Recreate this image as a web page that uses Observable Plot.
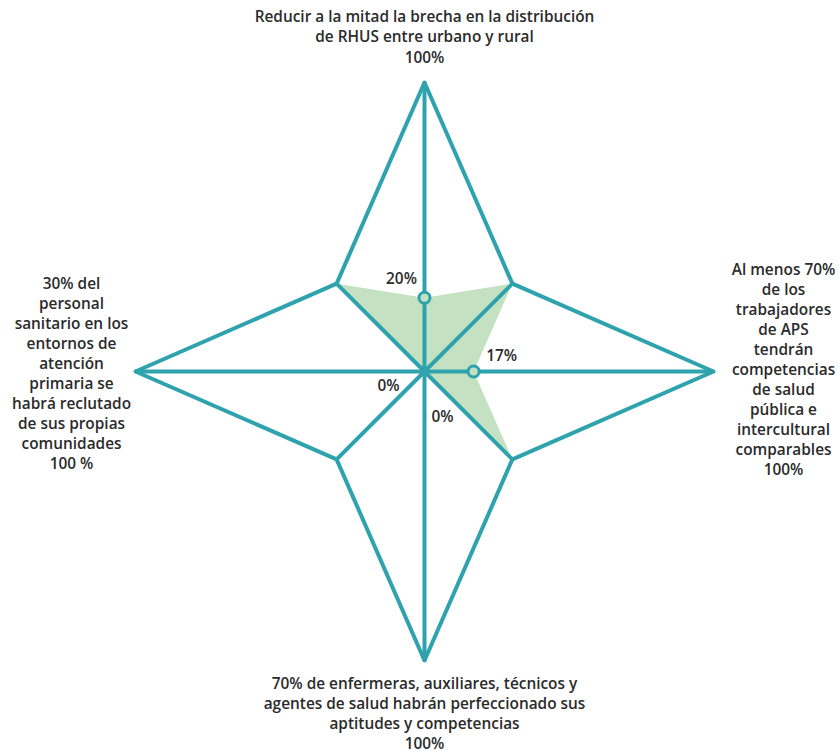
<!DOCTYPE html>
<html><head><meta charset="utf-8">
<script src="https://cdn.jsdelivr.net/npm/d3@7"></script>
<script src="https://cdn.jsdelivr.net/npm/@observablehq/plot@0.6"></script>
<style>html,body{margin:0;background:#fff} #chart svg{display:block}</style>
</head><body><div id="chart"></div><script>
// Radar axes, clockwise from top
const axes = ["N", "NE", "E", "SE", "S", "SW", "W", "NW"];
// Target (meta) outline values in %
const targetValues = [100, 43, 100, 43, 100, 43, 100, 43];
// Achieved values (green area) in %
const actualValues = [25.5, 43, 17, 43, 0, 0, 0, 43];
// Main axis labels (N, E, S, W)
const mainAxes = ["N", "E", "S", "W"];
const mainLabels = [
  "Reducir a la mitad la brecha en la distribución\nde RHUS entre urbano y rural\n100%",
  "Al menos 70%\nde los\ntrabajadores\nde APS\ntendrán\ncompetencias\nde salud\npública e\nintercultural\ncomparables\n100%",
  "70% de enfermeras, auxiliares, técnicos y\nagentes de salud habrán perfeccionado sus\naptitudes y competencias\n100%",
  "30% del\npersonal\nsanitario en los\nentornos de\natención\nprimaria se\nhabrá reclutado\nde sus propias\ncomunidades\n100 %"
];
const mainValues = [25.5, 17, 0, 0];
const valueLabels = ["20%", "17%", "0%", "0%"];

const teal = "#2ea3ad";
const green = "#c4e1c2";
const ink = "#2b2b2b";

const idx = a => axes.indexOf(a);
const pt = (v, i) => ({x: v * Math.sin(i * Math.PI / 4), y: v * Math.cos(i * Math.PI / 4)});

const outline = targetValues.map((v, i) => ({...pt(v, i), axis: axes[i]}));
const filled = actualValues.map((v, i) => ({...pt(v, i), axis: axes[i]}));
const spokes = outline.flatMap(d => [{x: 0, y: 0, axis: d.axis}, {x: d.x, y: d.y, axis: d.axis}]);
const tips = mainAxes.map((a, k) => ({...pt(100, idx(a)), label: mainLabels[k]}));
const markers = mainAxes.map((a, k) => ({...pt(mainValues[k], idx(a)), label: valueLabels[k], value: mainValues[k]}));

const font = {fontFamily: "Open Sans", fontWeight: 600, fontSize: 15.4, fill: ink, lineHeight: 1.3};

const chart = Plot.plot({
  width: 840,
  height: 754,
  margin: 0,
  x: {domain: [-100, 100], range: [135, 713], axis: null},
  y: {domain: [-100, 100], range: [660, 82], axis: null},
  marks: [
    Plot.line(filled, {x: "x", y: "y", curve: "linear-closed", fill: green, stroke: "none"}),
    Plot.line(spokes, {x: "x", y: "y", z: "axis", stroke: teal, strokeWidth: 4}),
    Plot.line(outline, {x: "x", y: "y", curve: "linear-closed", stroke: teal, strokeWidth: 4, strokeLinejoin: "miter"}),
    Plot.dot(markers.filter(d => d.value > 0), {x: "x", y: "y", r: 5.5, fill: green, stroke: teal, strokeWidth: 3}),
    // axis labels
    Plot.text([tips[0]], {x: "x", y: "y", text: "label", lineAnchor: "bottom", dy: -20, ...font}),
    Plot.text([tips[1]], {x: "x", y: "y", text: "label", lineAnchor: "middle", dx: 70, dy: -3, ...font}),
    Plot.text([tips[2]], {x: "x", y: "y", text: "label", lineAnchor: "top", dy: 14, ...font}),
    Plot.text([tips[3]], {x: "x", y: "y", text: "label", lineAnchor: "middle", dx: -64, dy: 1, ...font}),
    // value labels
    Plot.text([markers[0]], {x: "x", y: "y", text: "label", dx: -23, dy: -20, ...font}),
    Plot.text([markers[1]], {x: "x", y: "y", text: "label", dx: 28, dy: -17, ...font}),
    Plot.text([markers[2]], {x: "x", y: "y", text: "label", dx: 18, dy: 44, ...font}),
    Plot.text([markers[3]], {x: "x", y: "y", text: "label", dx: -36, dy: 13, ...font})
  ]
});
document.getElementById("chart").append(chart);
</script></body></html>
